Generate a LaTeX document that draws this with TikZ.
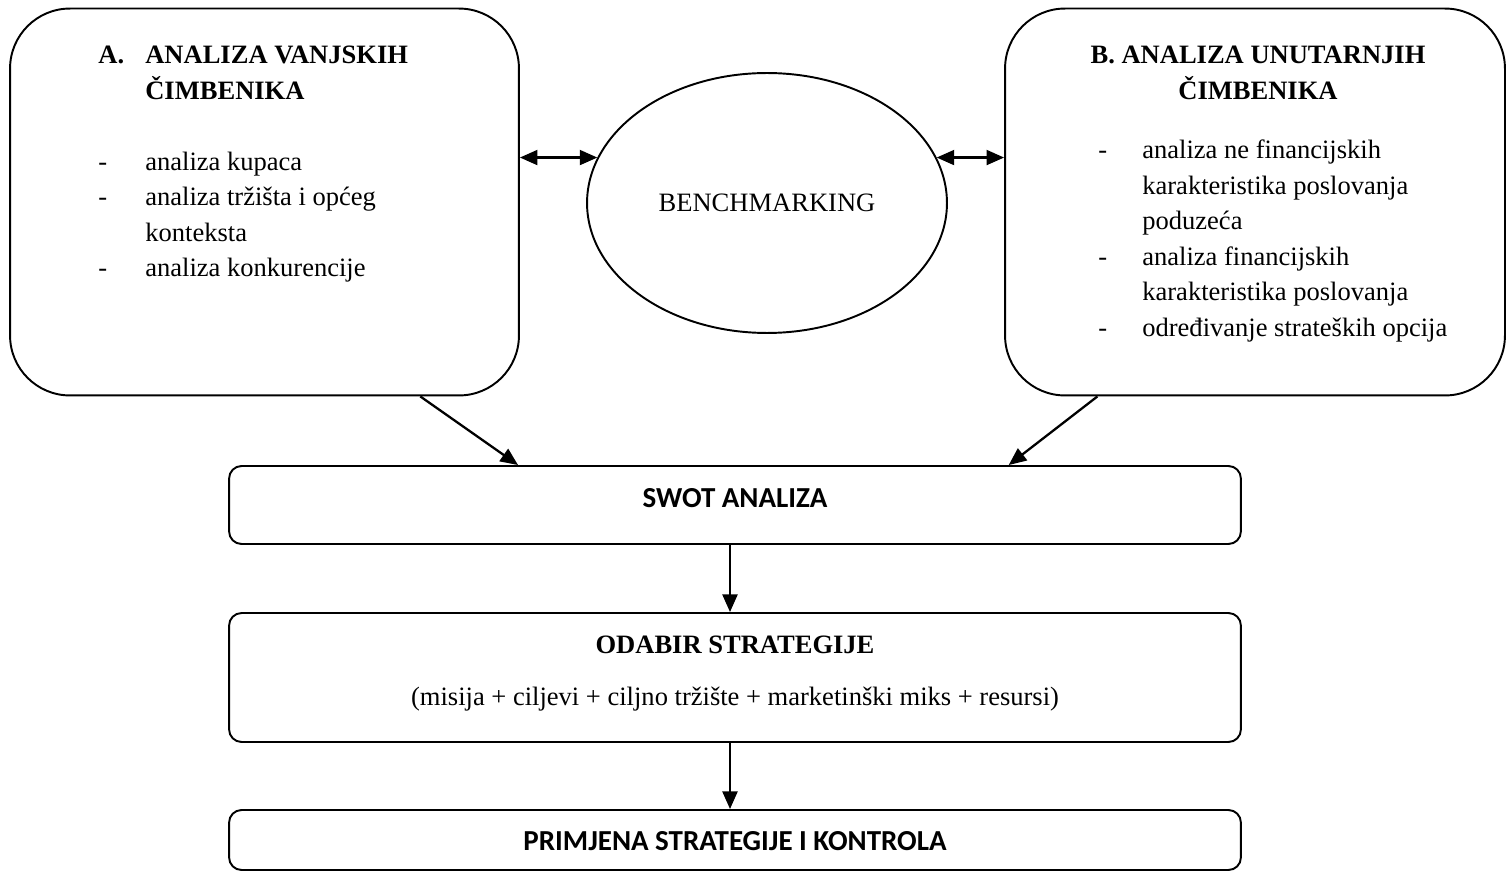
\documentclass[tikz,border=0pt]{standalone}
\usepackage{fontspec}
\setmainfont{Liberation Serif}
\newfontfamily\calibri{Carlito}
\usetikzlibrary{shapes.geometric,arrows.meta,calc}

\tikzset{
  bigbox/.style={draw, line width=1.1pt, rounded corners=1.2cm, minimum height=7.74cm, inner sep=0pt},
  stagebox/.style={draw, line width=1.1pt, rounded corners=0.25cm, minimum width=20.24cm, inner sep=0pt},
  txt/.style={inner sep=0pt, font=\fontsize{15.1}{20.2}\selectfont},
  txtbold/.style={inner sep=0pt, font=\fontsize{15.1}{20.2}\selectfont\bfseries},
  sanstxt/.style={inner sep=0pt, font=\calibri\bfseries\fontsize{16.5}{20}\selectfont},
  link/.style={line width=1.3pt, >={Triangle[length=10pt,width=8.5pt]}}
}

\begin{document}
\begin{tikzpicture}[x=0.02cm, y=-0.02cm]
\useasboundingbox (0,0) rectangle (1508,871);

% vanjski i unutarnji cimbenici
\node[bigbox, minimum width=10.18cm] (vanjski) at (264.5,202) {};
\node[bigbox, minimum width=10cm] (unutarnji) at (1255,202) {};
\node[draw, ellipse, line width=1.1pt, minimum width=7.2cm, minimum height=5.2cm, inner sep=0pt,
      font=\fontsize{15.1}{20.2}\selectfont] (bench) at (767,203) {BENCHMARKING};

\node[txt, anchor=base west] (vanjskiTxt) at (98,64) {\begin{tabular}[t]{@{}p{0.94cm}@{}l@{}}
\textbf{A.} & \textbf{ANALIZA VANJSKIH}\\
 & \textbf{ČIMBENIKA}\\
 & \\
- & analiza kupaca\\
- & analiza tržišta i općeg\\
 & konteksta\\
- & analiza konkurencije
\end{tabular}};

\node[txtbold, anchor=base] (unutarnjiNaslov) at (1258,64) {\begin{tabular}[t]{@{}c@{}}
B. ANALIZA UNUTARNJIH\\
ČIMBENIKA
\end{tabular}};
\node[txt, anchor=base west] (unutarnjiTxt) at (1098,159) {\begin{tabular}[t]{@{}p{0.88cm}@{}l@{}}
- & analiza ne financijskih\\
 & karakteristika poslovanja\\
 & poduzeća\\
- & analiza financijskih\\
 & karakteristika poslovanja\\
- & određivanje strateških opcija
\end{tabular}};

% faze
\node[stagebox, minimum height=1.56cm] (swot) at (735,505) {};
\node[sanstxt, anchor=base] (swotTxt) at (735,507) {SWOT ANALIZA};

\node[stagebox, minimum height=2.58cm] (odabir) at (735,677.5) {};
\node[txtbold, anchor=base] (odabirTxt) at (735,653) {ODABIR STRATEGIJE};
\node[txt, anchor=base] (odabirOpis) at (735,705) {(misija + ciljevi + ciljno tržište + marketinški miks + resursi)};

\node[stagebox, minimum height=1.2cm] (primjena) at (735,840) {};
\node[sanstxt, anchor=base] (primjenaTxt) at (735,850) {PRIMJENA STRATEGIJE I KONTROLA};

% veze
\draw[link, <->] (vanjski.east |- bench.165) -- (bench.165);
\draw[link, <->] (bench.15) -- (unutarnji.west |- bench.15);
\draw[link, ->] ($(vanjski.south west)!0.805!(vanjski.south east)$) -- ($(swot.north west)!0.286!(swot.north east)$);
\draw[link, ->] ($(unutarnji.south west)!0.186!(unutarnji.south east)$) -- ($(swot.north west)!0.77!(swot.north east)$);
\draw[link, ->] ([xshift=-0.1cm]swot.south) -- ([xshift=-0.1cm]odabir.north);
\draw[link, ->] ([xshift=-0.1cm]odabir.south) -- ([xshift=-0.1cm]primjena.north);

\end{tikzpicture}
\end{document}
